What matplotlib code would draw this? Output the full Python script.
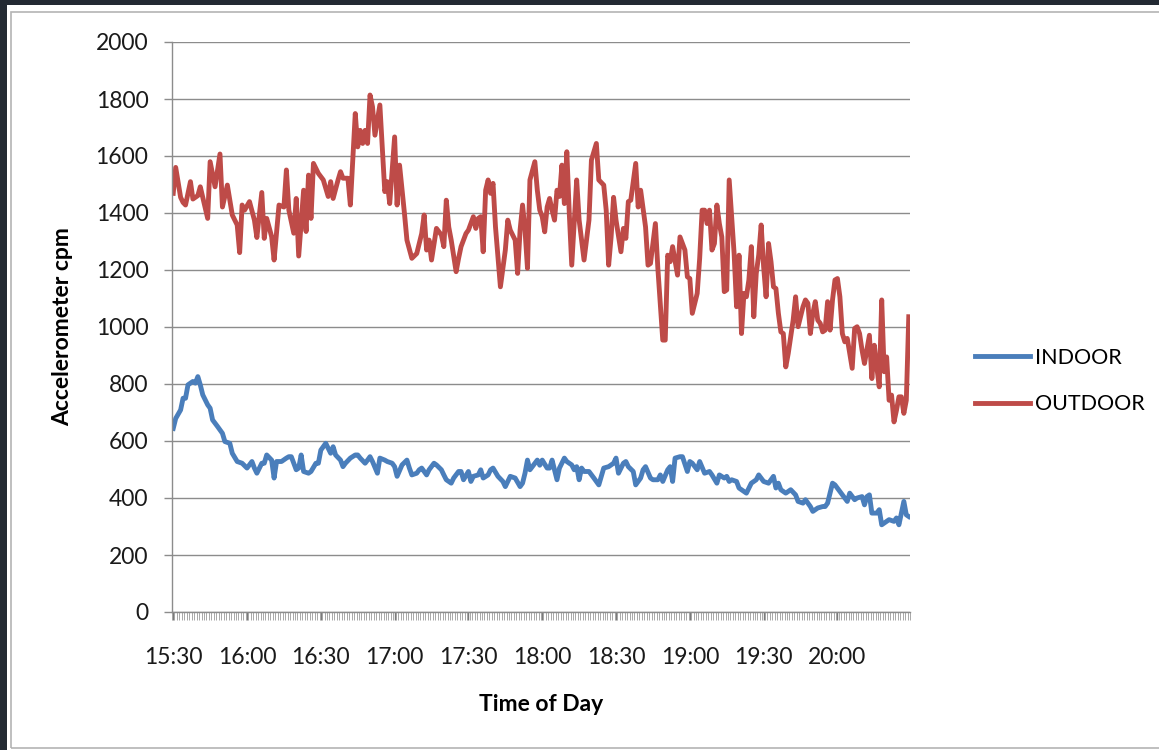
import matplotlib.pyplot as plt
from matplotlib.patches import Rectangle
import numpy as np

plt.rcParams['font.family'] = ['Lato', 'DejaVu Sans']

# minutes after 15:30 and accelerometer counts per minute
out_min = [0, 1, 3, 4, 5, 7, 8, 9, 10, 11, 12, 14, 15, 17, 19, 20, 22, 24, 26, 27,
           28, 29, 31, 33, 34, 36, 37, 38, 40, 41, 43, 45, 46, 47, 49, 50, 51, 53, 54, 55,
           56, 57, 59, 61, 63, 64, 65, 67, 68, 69, 71, 72, 74, 75, 76, 77, 78, 79, 80, 81,
           82, 84, 86, 87, 88, 90, 91, 92, 94, 95, 97, 99, 101, 102, 103, 104, 105, 107, 109, 110,
           111, 112, 113, 115, 116, 117, 119, 120, 122, 123, 124, 125, 126, 127, 128, 129, 130, 131, 133, 135,
           136, 137, 139, 140, 141, 142, 143, 144, 145, 147, 148, 149, 150, 151, 152, 153, 154, 155, 156, 157,
           158, 159, 160, 161, 162, 164, 165, 167, 169, 170, 172, 173, 175, 176, 177, 178, 179, 180, 182, 183,
           184, 185, 186, 188, 189, 190, 192, 193, 194, 196, 197, 199, 200, 201, 202, 203, 205, 206, 208, 209,
           210, 211, 213, 214, 215, 216, 217, 218, 219, 220, 221, 222, 223, 224, 225, 226, 228, 229, 230, 231,
           232, 233, 234, 235, 236, 237, 238, 239, 240, 241, 242, 243, 244, 245, 246, 247, 248, 249, 250, 252,
           253, 254, 256, 257, 258, 259, 260, 261, 262, 263, 264, 265, 266, 267, 268, 269, 270, 271, 272, 273,
           274, 276, 277, 278, 279, 280, 281, 283, 284, 285, 286, 287, 288, 289, 290, 291, 292, 293, 294, 295,
           296, 297, 298, 299]
out_cpm = [1469, 1560, 1455, 1437, 1428, 1510, 1449, 1455, 1461, 1492, 1455, 1381, 1580, 1492, 1607, 1421, 1498, 1393, 1358, 1261,
           1428, 1410, 1440, 1375, 1314, 1472, 1311, 1381, 1317, 1235, 1428, 1421, 1551, 1410, 1329, 1451, 1249, 1480, 1335, 1533,
           1381, 1574, 1539, 1516, 1458, 1510, 1451, 1516, 1545, 1522, 1522, 1428, 1749, 1632, 1690, 1644, 1690, 1644, 1814, 1773,
           1673, 1779, 1475, 1510, 1433, 1667, 1428, 1568, 1398, 1305, 1241, 1258, 1328, 1393, 1270, 1305, 1235, 1346, 1323, 1282,
           1445, 1351, 1305, 1194, 1241, 1282, 1328, 1340, 1387, 1346, 1381, 1387, 1264, 1480, 1516, 1469, 1504, 1351, 1141, 1270,
           1375, 1340, 1305, 1188, 1340, 1428, 1340, 1206, 1516, 1580, 1480, 1410, 1387, 1334, 1421, 1451, 1410, 1375, 1480, 1458,
           1568, 1433, 1615, 1398, 1217, 1516, 1375, 1235, 1375, 1586, 1644, 1516, 1498, 1410, 1217, 1316, 1455, 1375, 1264, 1346,
           1311, 1440, 1445, 1574, 1421, 1480, 1351, 1217, 1223, 1363, 1206, 954, 954, 1252, 1229, 1282, 1182, 1316, 1270, 1176,
           1170, 1048, 1118, 1241, 1410, 1410, 1363, 1410, 1270, 1293, 1428, 1363, 1316, 1124, 1130, 1516, 1258, 1071, 1252, 977,
           1118, 1106, 1165, 1282, 1036, 1188, 1252, 1358, 1211, 1106, 1293, 1229, 1141, 1135, 1048, 983, 977, 860, 907, 1024,
           1106, 1001, 1071, 1095, 1083, 977, 1048, 1089, 1024, 1013, 983, 989, 1089, 989, 1095, 1165, 1170, 1106, 977, 948,
           960, 855, 995, 1001, 977, 919, 872, 971, 819, 936, 860, 790, 1095, 843, 895, 743, 761, 667, 708, 755,
           755, 697, 743, 1036]

in_min = [0, 1, 3, 4, 5, 6, 8, 9, 10, 11, 12, 14, 15, 16, 18, 20, 21, 23, 24, 26,
          28, 30, 32, 33, 34, 36, 37, 38, 40, 41, 42, 44, 46, 47, 48, 50, 51, 52, 53, 55,
          56, 58, 59, 60, 62, 64, 65, 66, 68, 69, 70, 72, 74, 75, 76, 78, 79, 80, 81, 83,
          84, 86, 87, 89, 90, 91, 93, 95, 96, 97, 99, 100, 101, 103, 104, 106, 107, 109, 110, 111,
          113, 114, 116, 117, 118, 120, 121, 122, 124, 125, 126, 128, 129, 130, 132, 134, 135, 137, 139, 141,
          142, 143, 144, 145, 147, 148, 149, 150, 152, 153, 154, 156, 157, 159, 160, 162, 163, 164, 165, 166,
          167, 169, 171, 173, 175, 177, 179, 180, 181, 183, 184, 185, 187, 188, 190, 191, 192, 194, 195, 197,
          198, 199, 201, 202, 203, 204, 206, 207, 209, 210, 211, 213, 214, 216, 218, 219, 221, 222, 224, 225,
          226, 227, 229, 230, 231, 233, 235, 237, 238, 240, 242, 244, 245, 246, 247, 249, 251, 253, 254, 256,
          257, 259, 260, 262, 264, 265, 266, 268, 269, 271, 272, 274, 275, 277, 278, 280, 281, 282, 283, 284,
          286, 287, 288, 290, 291, 293, 294, 295, 297, 298, 299]
in_cpm = [644, 679, 709, 750, 750, 797, 809, 803, 826, 797, 762, 727, 715, 674, 651, 627, 598, 592, 557, 528,
          522, 505, 528, 505, 487, 522, 522, 551, 533, 470, 528, 528, 540, 545, 545, 499, 505, 551, 493, 487,
          493, 522, 522, 568, 592, 557, 580, 551, 533, 510, 522, 540, 551, 551, 540, 522, 533, 545, 528, 487,
          540, 533, 528, 522, 510, 476, 516, 533, 505, 481, 487, 499, 505, 481, 499, 522, 516, 499, 481, 464,
          452, 470, 493, 493, 464, 493, 458, 476, 481, 499, 470, 481, 499, 505, 476, 458, 440, 476, 470, 440,
          452, 487, 533, 499, 522, 533, 515, 533, 505, 505, 533, 464, 505, 540, 528, 516, 499, 510, 464, 505,
          493, 493, 470, 446, 505, 510, 522, 540, 487, 522, 528, 510, 493, 446, 470, 499, 510, 470, 464, 464,
          481, 458, 499, 510, 458, 540, 545, 545, 493, 528, 522, 499, 528, 487, 493, 481, 452, 481, 470, 476,
          458, 464, 458, 435, 429, 417, 452, 464, 481, 458, 452, 476, 435, 452, 429, 417, 429, 411, 388, 382,
          394, 370, 353, 365, 370, 370, 382, 452, 446, 423, 411, 388, 417, 394, 400, 405, 376, 405, 411, 347,
          347, 359, 306, 318, 324, 318, 330, 306, 388, 341, 335]

n_minutes = 300
tick_labels = ['15:30', '16:00', '16:30', '17:00', '17:30', '18:00', '18:30', '19:00', '19:30', '20:00']

fig = plt.figure(figsize=(11.59, 7.5), dpi=100, facecolor='#232a33')
# white page and its thin border, like the screenshot
fig.patches.append(Rectangle((7 / 1159, 0), 1, 1 - 5 / 750, transform=fig.transFigure,
                             facecolor='white', edgecolor='none', zorder=-3))
fig.patches.append(Rectangle((11 / 1159, 2 / 750), 1, 1 - 14 / 750, transform=fig.transFigure,
                             facecolor='none', edgecolor='#b4b4b4', lw=1.2, zorder=-2))

ax = fig.add_axes([172 / 1159, 1 - 612 / 750, 738 / 1159, 570 / 750])
ax.set_facecolor('none')

ax.plot(in_min, in_cpm, color='#4a7ebb', lw=3.5, label='INDOOR', solid_joinstyle='round')
ax.plot(out_min, out_cpm, color='#be4b48', lw=3.5, label='OUTDOOR', solid_joinstyle='round')

ax.set_xlim(-0.5, n_minutes - 0.5)
ax.set_ylim(0, 2000)
ax.set_yticks(np.arange(0, 2001, 200))
ax.grid(axis='y', color='#8c8c8c', lw=1.0)
ax.set_axisbelow(True)

ax.set_xticks(np.arange(0, 30 * len(tick_labels), 30))
ax.set_xticklabels(tick_labels)
ax.set_xticks(np.arange(-0.5, n_minutes, 1), minor=True)

for s in ['top', 'right']:
    ax.spines[s].set_visible(False)
for s in ['left', 'bottom']:
    ax.spines[s].set_color('#8c8c8c')
    ax.spines[s].set_linewidth(1.0)

ax.tick_params(axis='y', direction='out', length=6, width=1, color='#8c8c8c',
               labelsize=16.5, labelcolor='#1a1a1a', pad=11)
ax.tick_params(axis='x', which='major', direction='out', length=6, width=1, color='#7a7a7a',
               labelsize=16.5, labelcolor='#1a1a1a', pad=19)
ax.tick_params(axis='x', which='minor', direction='out', length=6, width=0.6, color='#9a9a9a')

ax.set_xlabel('Time of Day', fontsize=16.5, fontweight='bold', labelpad=19)
ax.set_ylabel('Accelerometer cpm', fontsize=16.5, fontweight='bold', labelpad=16)

ax.legend(loc='center left', bbox_to_anchor=(975 / 1159, 1 - 381 / 750),
          bbox_transform=fig.transFigure, frameon=False, fontsize=15.5,
          handlelength=2.55, handletextpad=0.25, labelspacing=1.22, borderpad=0,
          borderaxespad=0)

fig.savefig('out.png', dpi=100, facecolor=fig.get_facecolor())
